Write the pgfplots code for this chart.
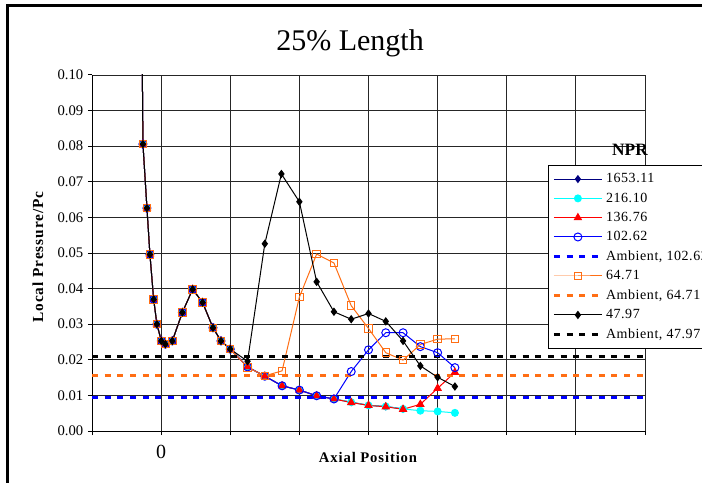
\documentclass[border=0pt]{standalone}
\usepackage{fontspec}
\setmainfont{Liberation Serif}
\usepackage{pgfplots}
\pgfplotsset{compat=1.18}
\usetikzlibrary{calc}
\definecolor{navyc}{RGB}{0,0,128}
\definecolor{cyanc}{RGB}{0,255,255}
\definecolor{orngc}{RGB}{255,110,20}
\definecolor{bluec}{RGB}{0,0,255}
\definecolor{redc}{RGB}{255,0,0}
\begin{document}
\begin{tikzpicture}
\begin{axis}[
  scale only axis,
  width=414.75pt, height=267pt,
  xmin=-1, xmax=7, ymin=0, ymax=0.1,
  axis x line*=bottom, axis y line*=left,
  axis line style={black, line width=0.75pt},
  xtick={-1,0,1,2,3,4,5,6,7},
  xticklabels={,0,,,,,,,},
  ytick={0,0.01,0.02,0.03,0.04,0.05,0.06,0.07,0.08,0.09,0.1},
  yticklabel style={/pgf/number format/.cd, fixed, fixed zerofill, precision=2, assume math mode=true},
  tick label style={font=\fontsize{11}{13}\selectfont},
  xticklabel style={font=\fontsize{15}{17}\selectfont, yshift=-4pt},
  tick align=outside, major tick length=3pt,
  tick style={black, line width=0.75pt},
  grid=major,
  major grid style={black!85, line width=0.6pt},
  legend style={at={(0.8246,0.747)}, anchor=north west, draw=black, line width=0.6pt,
    font=\fontsize{10.5}{12}\selectfont\addfontfeatures{LetterSpace=4}, row sep=2pt, inner xsep=3pt, inner ysep=4pt,
    legend cell align=left},
  legend image code/.code={\draw[mark repeat=2,mark phase=2] plot coordinates {(0pt,0pt) (18pt,0pt) (36pt,0pt)};},
]
\coordinate (SW) at (rel axis cs:0,0);
\addplot[navyc, line width=0.75pt, mark=diamond*, mark size=2.5pt, mark options={solid}] coordinates {
(-0.30,0.165) (-0.263,0.0806) (-0.205,0.0626) (-0.162,0.0496) (-0.108,0.0370) (-0.061,0.0300) (0.003,0.0253) (0.061,0.0244) (0.162,0.0253) (0.307,0.0333) (0.456,0.0398) (0.60,0.0361) (0.75,0.0290) (0.866,0.0253) (1.0,0.0230)
(1.25,0.0180) (1.5,0.0154) (1.75,0.0127) (2.0,0.0115) (2.25,0.0099) (2.5,0.0090) (2.75,0.0081) (3.0,0.0072) (3.25,0.0069) (3.5,0.0062)};
\addlegendentry{1653.11}
\addplot[cyanc, line width=0.75pt, mark=*, mark size=2.6pt, mark options={solid}] coordinates {
(-0.30,0.165) (-0.263,0.0806) (-0.205,0.0626) (-0.162,0.0496) (-0.108,0.0370) (-0.061,0.0300) (0.003,0.0253) (0.061,0.0244) (0.162,0.0253) (0.307,0.0333) (0.456,0.0398) (0.60,0.0361) (0.75,0.0290) (0.866,0.0253) (1.0,0.0230)
(1.25,0.0180) (1.5,0.0154) (1.75,0.0127) (2.0,0.0115) (2.25,0.0099) (2.5,0.0090) (2.75,0.0081) (3.0,0.0072) (3.25,0.0069) (3.5,0.0062) (3.75,0.0057) (4.0,0.0055) (4.25,0.0051)};
\addlegendentry{216.10}
\addplot[redc, line width=0.75pt, mark=triangle*, mark size=3pt, mark options={solid}] coordinates {
(-0.30,0.165) (-0.263,0.0806) (-0.205,0.0626) (-0.162,0.0496) (-0.108,0.0370) (-0.061,0.0300) (0.003,0.0253) (0.061,0.0244) (0.162,0.0253) (0.307,0.0333) (0.456,0.0398) (0.60,0.0361) (0.75,0.0290) (0.866,0.0253) (1.0,0.0230)
(1.25,0.0180) (1.5,0.0154) (1.75,0.0127) (2.0,0.0115) (2.25,0.0099) (2.5,0.0090) (2.75,0.0080) (3.0,0.0072) (3.25,0.0068) (3.5,0.0061) (3.75,0.0075) (4.0,0.0120) (4.25,0.0165)};
\addlegendentry{136.76}
\addplot[bluec, line width=0.75pt, mark=o, mark size=3pt, mark options={solid}] coordinates {
(-0.30,0.165) (-0.263,0.0806) (-0.205,0.0626) (-0.162,0.0496) (-0.108,0.0370) (-0.061,0.0300) (0.003,0.0253) (0.061,0.0244) (0.162,0.0253) (0.307,0.0333) (0.456,0.0398) (0.60,0.0361) (0.75,0.0290) (0.866,0.0253) (1.0,0.0230)
(1.25,0.0180) (1.5,0.0154) (1.75,0.0127) (2.0,0.0115) (2.25,0.0099) (2.5,0.0090) (2.75,0.0167) (3.0,0.0228) (3.25,0.0276) (3.5,0.0276) (3.75,0.0237) (4.0,0.0220) (4.25,0.0178)};
\addlegendentry{102.62}
\addplot[bluec, line width=2.25pt, dash pattern=on 4.5pt off 5pt] coordinates {(-1,0.0095) (7,0.0095)};
\addlegendentry{Ambient, 102.62}
\addplot[orngc, line width=0.75pt, mark=square, mark size=2.8pt, mark options={solid}] coordinates {
(-0.30,0.165) (-0.263,0.0806) (-0.205,0.0626) (-0.162,0.0496) (-0.108,0.0370) (-0.061,0.0300) (0.003,0.0253) (0.061,0.0244) (0.162,0.0253) (0.307,0.0333) (0.456,0.0398) (0.60,0.0361) (0.75,0.0290) (0.866,0.0253) (1.0,0.0230)
(1.25,0.0179) (1.5,0.0155) (1.75,0.0169) (2.0,0.0376) (2.25,0.0497) (2.5,0.0472) (2.75,0.0352) (3.0,0.0288) (3.25,0.0220) (3.5,0.0199) (3.75,0.0243) (4.0,0.0258) (4.25,0.0259)};
\addlegendentry{64.71}
\addplot[orngc, line width=2.25pt, dash pattern=on 4.5pt off 5pt] coordinates {(-1,0.0155) (7,0.0155)};
\addlegendentry{Ambient, 64.71}
\addplot[black, line width=0.75pt, mark=diamond*, mark size=2.6pt, mark options={solid}] coordinates {
(-0.30,0.165) (-0.263,0.0806) (-0.205,0.0626) (-0.162,0.0496) (-0.108,0.0370) (-0.061,0.0300) (0.003,0.0253) (0.061,0.0244) (0.162,0.0253) (0.307,0.0333) (0.456,0.0398) (0.60,0.0361) (0.75,0.0290) (0.866,0.0253) (1.0,0.0230)
(1.25,0.0196) (1.5,0.0526) (1.74,0.0722) (2.0,0.0644) (2.25,0.0419) (2.5,0.0335) (2.75,0.0314) (3.0,0.0330) (3.25,0.0308) (3.5,0.0253) (3.75,0.0183) (4.0,0.0151) (4.25,0.0125)};
\addlegendentry{47.97}
\addplot[black, line width=2.25pt, dash pattern=on 4.5pt off 5pt] coordinates {(-1,0.0208) (7,0.0208)};
\addlegendentry{Ambient, 47.97}
\end{axis}
\coordinate (O) at ($(SW)+(-69pt,-38.25pt)$);
\pgfresetboundingbox
\path[use as bounding box] (O) rectangle ++(526.5pt,361.5pt);
\begin{scope}[shift={(O)}, x=1pt, y=1pt]
\draw[line width=2.25pt] (6,-5) -- (6,357) -- (540,357);
\node[font=\fontsize{22.5}{26}\selectfont] at (262.5,329.25) {25\% Length};
\node[font=\bfseries\fontsize{13}{15}\selectfont] at (472.5,249) {NPR};
\node[font=\bfseries\fontsize{11.5}{13}\selectfont\addfontfeatures{LetterSpace=6}, rotate=90] at (28.5,168.75) {Local Pressure/Pc};
\node[font=\bfseries\fontsize{11}{13}\selectfont\addfontfeatures{LetterSpace=6}] at (276,18.75) {Axial Position};
\end{scope}
\end{tikzpicture}
\end{document}
